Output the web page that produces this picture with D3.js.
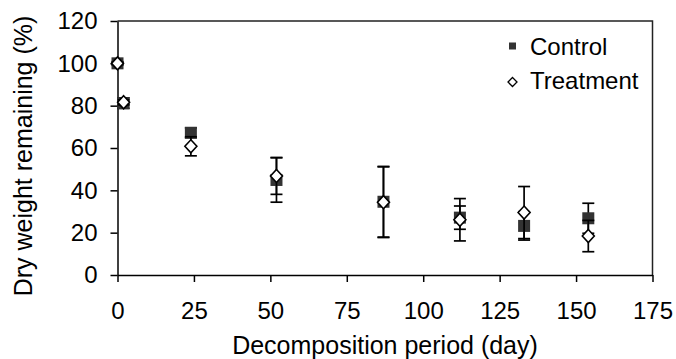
<!DOCTYPE html>
<html>
<head>
<meta charset="utf-8">
<script src="https://cdn.jsdelivr.net/npm/d3@7"></script>
<style>
  body { margin: 0; background: #fff; }
  svg text { font-family: "Liberation Sans", Arial, sans-serif; fill: #000; }
</style>
</head>
<body>
<script>
// decomposition days and dry weight remaining (%)
var days = [0, 2, 24, 52, 87, 112, 133, 154];
var control = [100, 81.2, 67.2, 44.9, 34.6, 27.1, 23.2, 26.8];
var controlErr = [0.8, 2.5, 2.3, 10.5, 16.7, 5.5, 6.7, 7.1];
var treatment = [100, 81.6, 60.8, 46.8, 34.4, 26.1, 29.5, 18.4];
var treatmentErr = [0.5, 1.2, 4.5, 8.7, 16.7, 10, 12.3, 7.4];
var xTicks = [0, 25, 50, 75, 100, 125, 150, 175];
var yTicks = [0, 20, 40, 60, 80, 100, 120];

var svgWidth = 676,
    svgHeight = 359,
    margin = {top: 21, right: 23.5, bottom: 84, left: 117.5};

var svg = d3.select('body').append('svg')
    .attr("width", svgWidth)
    .attr("height", svgHeight);

var xScale = d3.scaleLinear()
    .domain([0, 175])
    .range([margin.left, svgWidth - margin.right]);
var yScale = d3.scaleLinear()
    .domain([0, 120])
    .range([svgHeight - margin.bottom, margin.top]);

// frame: top and right lines
svg.append("path")
    .attr("d", "M" + xScale(0) + "," + yScale(120) + "H" + xScale(175) + "V" + yScale(0))
    .attr("fill", "none")
    .attr("stroke", "#222")
    .attr("stroke-width", 1.5);

var yAxis = svg.append("g")
    .attr("transform", "translate(" + xScale(0) + ",0)")
    .call(d3.axisLeft(yScale).tickValues(yTicks).tickSize(7).tickSizeOuter(0).tickPadding(13));
var xAxis = svg.append("g")
    .attr("transform", "translate(0," + yScale(0) + ")")
    .call(d3.axisBottom(xScale).tickValues(xTicks).tickSize(7).tickSizeOuter(0).tickPadding(20));

[xAxis, yAxis].forEach(g => {
    g.selectAll("path, line").attr("stroke", "#000").attr("stroke-width", 1.5);
    g.selectAll("text").attr("font-size", 24).attr("font-family", null);
});

// axis titles
svg.append("text")
    .attr("x", (xScale(0) + xScale(175)) / 2)
    .attr("y", 354)
    .attr("text-anchor", "middle")
    .attr("font-size", 25)
    .text("Decomposition period (day)");
svg.append("text")
    .attr("transform", "translate(32," + ((yScale(0) + yScale(120)) / 2 + 8) + ") rotate(-90)")
    .attr("text-anchor", "middle")
    .attr("font-size", 25)
    .text("Dry weight remaining (%)");

// error bars + markers for one series
function drawSeries(values, errs, cls) {
    var g = svg.append("g").attr("class", cls);
    var bars = g.selectAll(".err")
        .data(days.map((d, i) => ({day: d, v: values[i], e: errs[i]})))
        .enter().append("g").attr("class", "err")
        .attr("stroke", "#000").attr("stroke-width", 1.7);
    bars.append("line")
        .attr("x1", d => xScale(d.day)).attr("x2", d => xScale(d.day))
        .attr("y1", d => yScale(d.v + d.e)).attr("y2", d => yScale(d.v - d.e));
    bars.append("line")
        .attr("x1", d => xScale(d.day) - 6).attr("x2", d => xScale(d.day) + 6)
        .attr("y1", d => yScale(d.v + d.e)).attr("y2", d => yScale(d.v + d.e));
    bars.append("line")
        .attr("x1", d => xScale(d.day) - 6).attr("x2", d => xScale(d.day) + 6)
        .attr("y1", d => yScale(d.v - d.e)).attr("y2", d => yScale(d.v - d.e));
    return g;
}

drawSeries(control, controlErr, "control")
    .selectAll("rect")
    .data(days)
    .enter().append("rect")
    .attr("x", (d, i) => xScale(d) - 6)
    .attr("y", (d, i) => yScale(control[i]) - 6)
    .attr("width", 12)
    .attr("height", 12)
    .attr("fill", "#333");

drawSeries(treatment, treatmentErr, "treatment")
    .selectAll("path.mark")
    .data(days)
    .enter().append("path")
    .attr("class", "mark")
    .attr("d", (d, i) => {
        var x = xScale(d), y = yScale(treatment[i]);
        return "M" + x + "," + (y - 6.5) + "L" + (x + 6) + "," + y + "L" + x + "," + (y + 6.5) + "L" + (x - 6) + "," + y + "Z";
    })
    .attr("fill", "#fff")
    .attr("stroke", "#000")
    .attr("stroke-width", 1.6);

// legend
var legend = svg.append("g");
legend.append("rect")
    .attr("x", 509).attr("y", 42.5).attr("width", 7).attr("height", 7)
    .attr("fill", "#333");
legend.append("text")
    .attr("x", 530).attr("y", 55).attr("font-size", 24).text("Control");
legend.append("path")
    .attr("d", "M512.5,77.5L517,82L512.5,86.5L508,82Z")
    .attr("fill", "#fff").attr("stroke", "#000").attr("stroke-width", 1.3);
legend.append("text")
    .attr("x", 530).attr("y", 89).attr("font-size", 24).text("Treatment");
</script>
</body>
</html>
